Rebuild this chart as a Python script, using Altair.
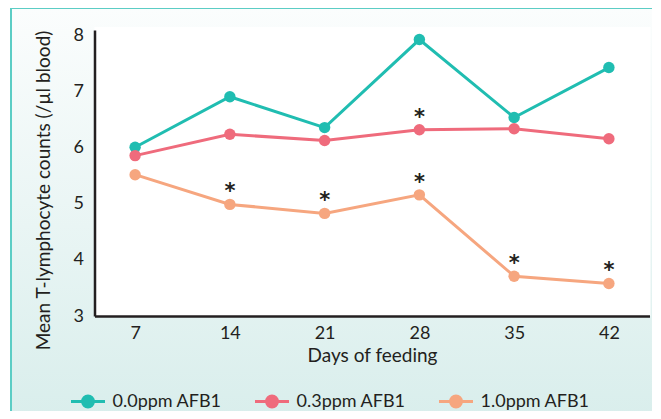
import altair as alt
import pandas as pd

days = [7, 14, 21, 28, 35, 42]
series = ["0.0ppm AFB1", "0.3ppm AFB1", "1.0ppm AFB1"]
vals_00 = [6.01, 6.91, 6.36, 7.93, 6.54, 7.43]
vals_03 = [5.86, 6.24, 6.13, 6.32, 6.34, 6.16]
vals_10 = [5.52, 4.99, 4.83, 5.16, 3.71, 3.58]
colors = ["#20bdb1", "#ef6b7c", "#f6a67f"]
star_days = [28, 14, 21, 28, 35, 42]
star_vals = [6.32, 4.99, 4.83, 5.16, 3.71, 3.58]

rows = []
for name, vals in zip(series, [vals_00, vals_03, vals_10]):
    for d, v in zip(days, vals):
        rows.append({"day": d, "value": v, "group": name})
df = pd.DataFrame(rows)
stars = pd.DataFrame({"day": star_days, "value": star_vals})

FONT = "Lato"
INK = "#231f20"
W, H = 555, 286

xs = alt.Scale(domain=[4, 45], nice=False, zero=False)
ys = alt.Scale(domain=[3, 8.1], nice=False, zero=False)
cs = alt.Scale(domain=series, range=colors)

one = alt.Data(values=[{}])

bg = alt.Chart(one).mark_rect(
    fill=alt.Gradient(
        gradient="linear",
        stops=[alt.GradientStop(color="#fbfdfd", offset=0),
               alt.GradientStop(color="#d9eeec", offset=1)],
        x1=0, x2=0, y1=0, y2=1),
    stroke="#5ccdc5", strokeWidth=2,
).encode(x=alt.value(-83.5), x2=alt.value(W + 40), y=alt.value(-22), y2=alt.value(H + 103))

plotbg = alt.Chart(one).mark_rect(fill="white").encode(
    x=alt.value(0), x2=alt.value(W + 1), y=alt.value(-3), y2=alt.value(H))

path = "M-1,0L1,0M-0.32,0A0.32,0.32 0 1,1 0.32,0A0.32,0.32 0 1,1 -0.32,0Z"

line = alt.Chart(df).mark_line(strokeWidth=3).encode(
    x=alt.X("day:Q", scale=xs, axis=alt.Axis(values=days, title="Days of feeding", zindex=1, format="d")),
    y=alt.Y("value:Q", scale=ys, axis=alt.Axis(values=[3, 4, 5, 6, 7, 8], zindex=1, format="d",
                                               title="Mean T-lymphocyte counts (/µl blood)")),
    color=alt.Color("group:N", scale=cs, sort=series, legend=alt.Legend(
        title=None, orient="none", legendX=-25, legendY=353, direction="horizontal",
        symbolType=path, symbolSize=1156, symbolStrokeWidth=3, symbolFillColor="transparent",
        labelFontSize=18, labelFont=FONT, labelColor=INK, labelOffset=6,
        columnPadding=26, padding=0)),
)

pts = alt.Chart(df).mark_circle(size=130, opacity=1).encode(
    x=alt.X("day:Q", scale=xs),
    y=alt.Y("value:Q", scale=ys),
    color=alt.Color("group:N", scale=cs, sort=series, legend=None),
)

star = alt.Chart(stars).mark_text(
    text="*", fontSize=21, fontWeight="bold", font="DejaVu Sans", color=INK, dy=-12, baseline="middle"
).encode(x=alt.X("day:Q", scale=xs), y=alt.Y("value:Q", scale=ys))

chart = alt.layer(bg, plotbg, line, pts, star).properties(
    width=W, height=H,
    padding={"left": 86.5, "top": 22, "right": 2, "bottom": 95},
    autosize=alt.AutoSizeParams(type="none"),
).configure_view(stroke=None).configure_axis(
    domainColor=INK, domainWidth=2.5, ticks=False, grid=False,
    labelFont=FONT, labelFontSize=18, labelColor=INK,
    titleFont=FONT, titleFontSize=19, titleColor=INK, titleFontWeight="normal",
).configure_axisX(labelPadding=8, titlePadding=4).configure_axisY(
    labelPadding=11, titleX=-51, titleY=160, titleBaseline="middle")

chart.save("out.html", embed_options={"renderer": "svg", "actions": False})
